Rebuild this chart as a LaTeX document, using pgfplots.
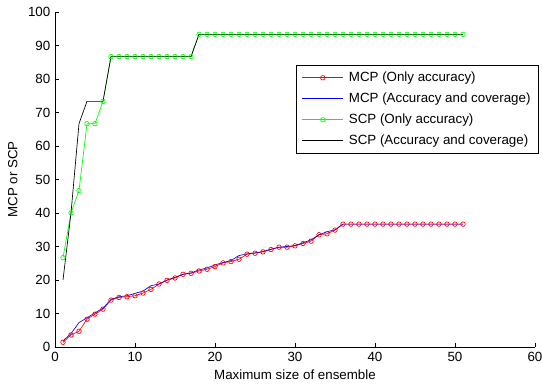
\documentclass[border=0pt]{standalone}
\usepackage{fontspec}
\setmainfont{Liberation Sans}
\usepackage{pgfplots}
\usepackage{pgfplotstable}
\pgfplotsset{compat=1.18}
\pgfplotstableread{
x mcpacc mcpcov scpacc scpcov
1 1.4 1.8 26.67 20.00
2 3.6 4.0 40.00 40.00
3 4.7 7.3 46.67 66.67
4 8.3 8.7 66.67 73.33
5 9.8 10.2 66.67 73.33
6 11.3 11.6 73.33 73.33
7 14.0 14.2 86.67 86.67
8 14.8 15.0 86.67 86.67
9 15.0 15.3 86.67 86.67
10 15.3 16.0 86.67 86.67
11 16.1 16.7 86.67 86.67
12 17.2 18.3 86.67 86.67
13 18.8 18.8 86.67 86.67
14 19.9 20.0 86.67 86.67
15 20.6 20.8 86.67 86.67
16 21.7 21.7 86.67 86.67
17 22.0 22.1 86.67 86.67
18 22.7 23.0 93.33 93.33
19 23.2 23.6 93.33 93.33
20 24.0 24.5 93.33 93.33
21 25.1 25.2 93.33 93.33
22 25.5 25.8 93.33 93.33
23 26.2 27.3 93.33 93.33
24 27.7 27.8 93.33 93.33
25 28.0 28.1 93.33 93.33
26 28.4 28.5 93.33 93.33
27 29.1 29.2 93.33 93.33
28 29.8 29.8 93.33 93.33
29 29.8 30.0 93.33 93.33
30 30.2 30.3 93.33 93.33
31 30.9 31.1 93.33 93.33
32 31.6 32.0 93.33 93.33
33 33.5 33.5 93.33 93.33
34 33.8 34.4 93.33 93.33
35 34.9 35.0 93.33 93.33
36 36.67 36.67 93.33 93.33
37 36.67 36.67 93.33 93.33
38 36.67 36.67 93.33 93.33
39 36.67 36.67 93.33 93.33
40 36.67 36.67 93.33 93.33
41 36.67 36.67 93.33 93.33
42 36.67 36.67 93.33 93.33
43 36.67 36.67 93.33 93.33
44 36.67 36.67 93.33 93.33
45 36.67 36.67 93.33 93.33
46 36.67 36.67 93.33 93.33
47 36.67 36.67 93.33 93.33
48 36.67 36.67 93.33 93.33
49 36.67 36.67 93.33 93.33
50 36.67 36.67 93.33 93.33
51 36.67 36.67 93.33 93.33
}\datatable
\begin{document}
\begin{tikzpicture}
\begin{axis}[
  name=ax,
  scale only axis,
  width=360pt, height=251.25pt,
  xmin=0, xmax=60, ymin=0, ymax=100,
  axis x line=bottom, axis y line=left,
  axis line style={-, line width=0.5pt},
  tick align=inside,
  major tick length=3pt,
  tick style={black, line width=0.5pt},
  xtick={0,10,...,60}, ytick={0,10,...,100},
  /pgf/number format/assume math mode=true,
  xlabel={Maximum size of ensemble},
  ylabel={MCP or SCP},
  xlabel style={at={(axis description cs:0.5,-0.084)}, anchor=center},
  ylabel style={at={(axis description cs:-0.088,0.5)}, anchor=center},
  every axis plot/.append style={line width=0.5pt},
  legend image code/.code={\draw[mark repeat=2,mark phase=2,#1] plot coordinates {(0cm,0cm) (0.54cm,0cm) (1.08cm,0cm)};},
  legend style={at={(axis description cs:1.008,0.842)}, anchor=north east, draw=black, line width=0.5pt, legend cell align=left, row sep=3pt, inner xsep=4pt, inner ysep=3pt, column sep=2pt, font=\fontsize{10}{12}\selectfont},
]
\addplot[red, mark=o, mark size=1.7pt, mark options={solid}] table[x=x, y=mcpacc] {\datatable};
\addlegendentry{MCP (Only accuracy)}
\addplot[blue, mark=none] table[x=x, y=mcpcov] {\datatable};
\addlegendentry{MCP (Accuracy and coverage)}
\addplot[green, mark=o, mark size=1.7pt] table[x=x, y=scpacc] {\datatable};
\addlegendentry{SCP (Only accuracy)}
\addplot[black, mark=none] table[x=x, y=scpcov] {\datatable};
\addlegendentry{SCP (Accuracy and coverage)}
\end{axis}
\pgfresetboundingbox
\path (ax.south west) ++(-41.25pt,-28.5pt) coordinate (bbA);
\path (ax.north east) ++(5.25pt,9pt) coordinate (bbB);
\useasboundingbox (bbA) rectangle (bbB);
\end{tikzpicture}
\end{document}
